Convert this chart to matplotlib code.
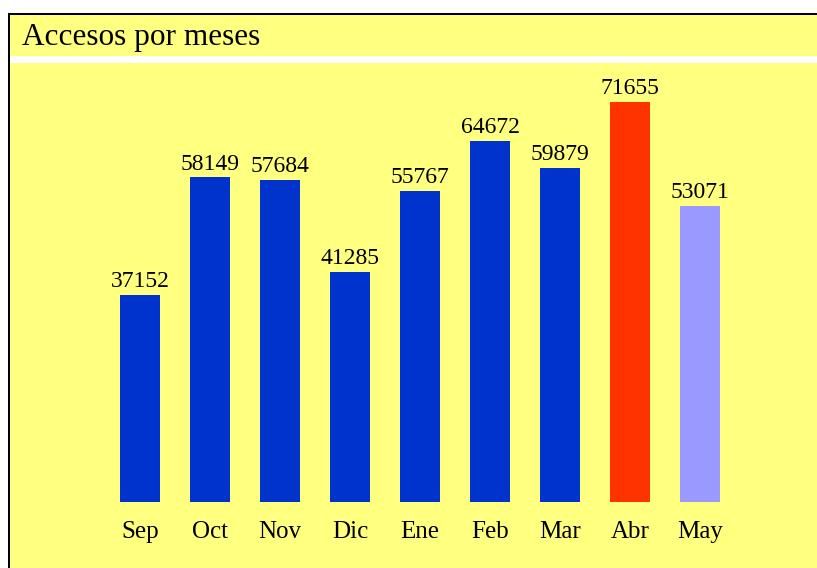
import matplotlib
matplotlib.use('Agg')
import matplotlib.pyplot as plt
from matplotlib.patches import Rectangle

months = ['Sep', 'Oct', 'Nov', 'Dic', 'Ene', 'Feb', 'Mar', 'Abr', 'May']
accesses = [37152, 58149, 57684, 41285, 55767, 64672, 59879, 71655, 53071]
colors = ['#0033cc'] * 7 + ['#ff3300', '#9999ff']
title = 'Accesos por meses'

W, H = 817, 568
YELLOW = '#ffff80'
SERIF = ['Liberation Serif', 'DejaVu Serif']


def px(x, y, w, h):
    # pixel box (top-left origin) -> figure fraction box
    return (x / W, 1 - (y + h) / H, w / W, h / H)


fig = plt.figure(figsize=(W / 100, H / 100), dpi=100, facecolor='white')

# frame: black border, yellow panel, white separator
for (x, y, w, h), c in [((7.5, 12.5, W, H), 'black'),
                        ((10, 15, W, H), YELLOW),
                        ((10, 56.5, W, 6.5), 'white')]:
    l, b, ww, hh = px(x, y, w, h)
    fig.patches.append(Rectangle((l, b), ww, hh, transform=fig.transFigure,
                                 facecolor=c, edgecolor='none', zorder=-10))

fig.text(22 / W, 1 - 38 / H, title, family=SERIF, fontsize=22.5,
         va='center', ha='left')

ax = fig.add_axes(px(105, 502 - 446.6, 630, 446.6))
ax.set_facecolor('none')
ax.set_xlim(-0.5, len(months) - 0.5)
ax.set_ylim(0, 80000)
ax.axis('off')

pos = range(len(months))
ax.bar(pos, accesses, width=40 / 70, color=colors)
for i, v in zip(pos, accesses):
    ax.annotate(str(v), (i, v), xytext=(0, 2), textcoords='offset points',
                ha='center', va='bottom', family=SERIF, fontsize=17)
    ax.annotate(months[i], (i, 0), xytext=(0, -21.5), textcoords='offset points',
                ha='center', va='center', family=SERIF, fontsize=18)

fig.savefig('out.png', dpi=100, facecolor='white')
